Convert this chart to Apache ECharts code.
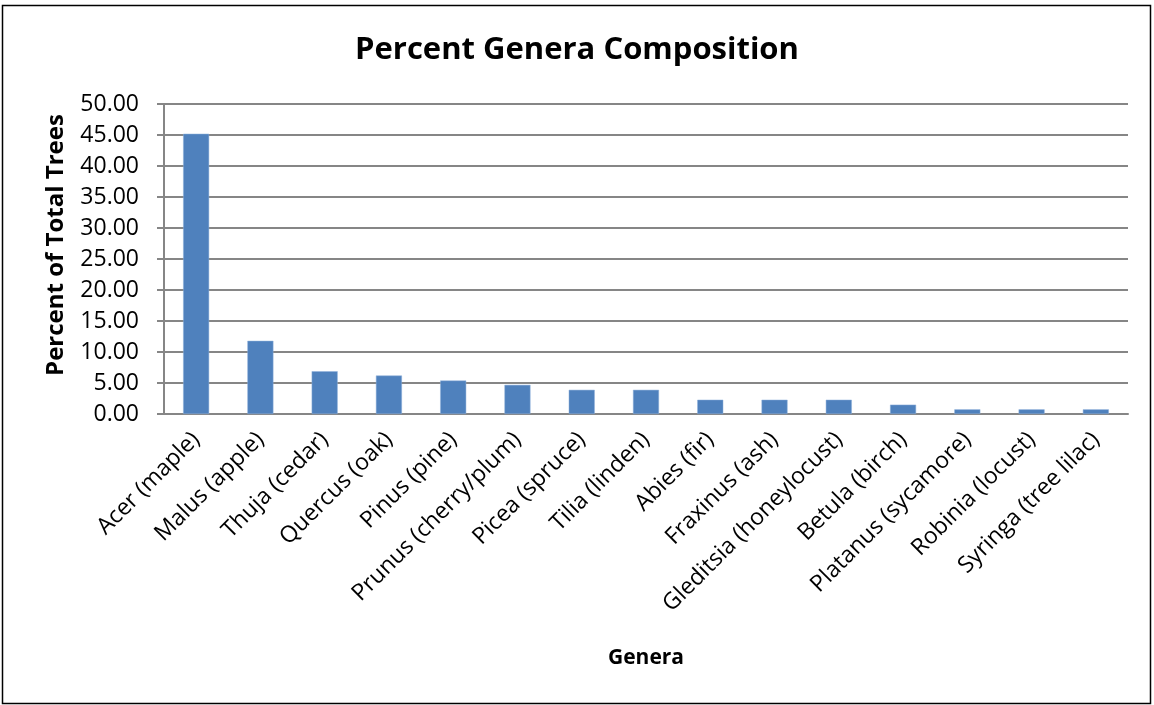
<!DOCTYPE html>
<html>
<head>
<meta charset="utf-8">
<script src="https://cdn.jsdelivr.net/npm/echarts@6/dist/echarts.min.js"></script>
<style>
  html, body { margin: 0; padding: 0; background: #fff; }
  #chart { width: 1154px; height: 705px; }
</style>
</head>
<body>
<div id="chart"></div>
<script>
const genera = [
  'Acer (maple)', 'Malus (apple)', 'Thuja (cedar)', 'Quercus (oak)', 'Pinus (pine)',
  'Prunus (cherry/plum)', 'Picea (spruce)', 'Tilia (linden)', 'Abies (fir)', 'Fraxinus (ash)',
  'Gleditsia (honeylocust)', 'Betula (birch)', 'Platanus (sycamore)', 'Robinia (locust)', 'Syringa (tree lilac)'
]
const percentTrees = [45.2, 11.8, 6.9, 6.2, 5.4, 4.7, 3.9, 3.9, 2.3, 2.3, 2.3, 1.5, 0.75, 0.75, 0.75]

const font = '"Open Sans", sans-serif'
const chart = echarts.init(document.getElementById('chart'))

chart.setOption({
  backgroundColor: '#fff',
  animation: false,
  title: {
    text: 'Percent Genera Composition',
    left: 'center',
    top: 30,
    textStyle: { fontFamily: font, fontSize: 31, fontWeight: 'bold', color: '#000' }
  },
  graphic: [{
    type: 'rect',
    shape: { x: 2.5, y: 5.5, width: 1148, height: 698 },
    style: { fill: 'none', stroke: '#000', lineWidth: 1.5 },
    silent: true
  }, {
    // y axis title, placed like the original (a bit above the plot's middle)
    type: 'text',
    x: 56,
    y: 245,
    rotation: Math.PI / 2,
    style: {
      text: 'Percent of Total Trees',
      fontFamily: font, fontSize: 24, fontWeight: 'bold', fill: '#000',
      align: 'center', verticalAlign: 'middle'
    },
    silent: true
  }],
  grid: { left: 164, right: 26, top: 104, bottom: 291 },
  xAxis: {
    type: 'category',
    data: genera,
    name: 'Genera',
    nameLocation: 'middle',
    nameGap: 234,
    nameTextStyle: { fontFamily: font, fontSize: 21, fontWeight: 'bold', color: '#000' },
    axisLine: { lineStyle: { color: '#868686', width: 2 } },
    axisTick: { show: false },
    axisLabel: { rotate: 45, margin: 22, fontFamily: font, fontSize: 23, color: '#000' }
  },
  yAxis: {
    type: 'value',
    min: 0,
    max: 50,
    interval: 5,
    axisLine: { show: true, lineStyle: { color: '#868686', width: 2 } },
    axisTick: { show: true, length: 7, lineStyle: { color: '#868686', width: 2 } },
    axisLabel: {
      fontFamily: font, fontSize: 23, color: '#000', margin: 25,
      formatter: v => v.toFixed(2)
    },
    splitLine: { lineStyle: { color: '#868686', width: 2 } }
  },
  series: [{
    type: 'bar',
    data: percentTrees,
    barWidth: 26,
    itemStyle: { color: '#4F81BD', borderColor: '#8fb0da', borderWidth: 0.5 }
  }]
})
</script>
</body>
</html>
